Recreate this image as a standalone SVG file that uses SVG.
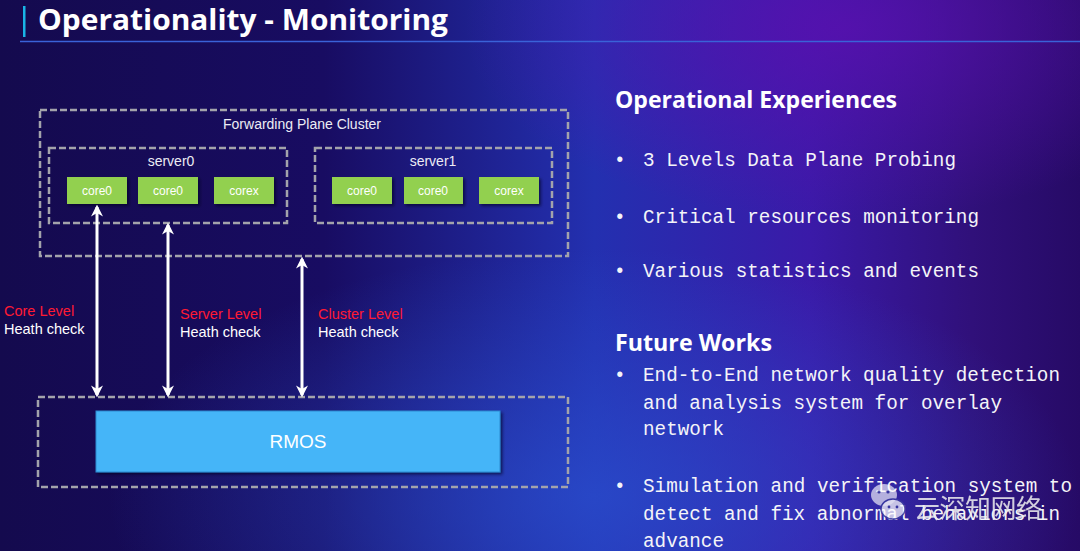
<svg xmlns="http://www.w3.org/2000/svg" width="1080" height="551" viewBox="0 0 1080 551">
<defs>
<linearGradient id="bg" x1="0" y1="0" x2="1" y2="0">
<stop offset="0" stop-color="#140a4e"/>
<stop offset="0.3" stop-color="#180c62"/>
<stop offset="0.55" stop-color="#2330b0"/>
<stop offset="0.75" stop-color="#3a1aa8"/>
<stop offset="0.9" stop-color="#30107a"/>
<stop offset="1" stop-color="#260a66"/>
</linearGradient>
<radialGradient id="glow1" cx="0.78" cy="0.05" r="0.35">
<stop offset="0" stop-color="#5a10b0" stop-opacity="0.8"/>
<stop offset="1" stop-color="#5a10b0" stop-opacity="0"/>
</radialGradient>
<radialGradient id="glow2" cx="0.55" cy="0.9" r="0.45">
<stop offset="0" stop-color="#2a50d0" stop-opacity="0.7"/>
<stop offset="1" stop-color="#2a50d0" stop-opacity="0"/>
</radialGradient>
<marker id="ah" viewBox="0 0 10 10" refX="8" refY="5" markerWidth="4" markerHeight="4" orient="auto-start-reverse" markerUnits="strokeWidth">
<path d="M0,0 L10,5 L0,10 L3,5 Z" fill="#ffffff"/>
</marker>
<filter id="sh" x="-10%" y="-10%" width="130%" height="140%">
<feDropShadow dx="2" dy="2" stdDeviation="1.5" flood-color="#000020" flood-opacity="0.6"/>
</filter>
</defs>
<style>
.dash{fill:none;stroke:#a3a3ab;stroke-width:2.5;stroke-dasharray:7 3}
.core{fill:#92d050;filter:url(#sh)}
.ct{font-family:"Liberation Sans",Arial,sans-serif;font-size:12px;fill:#ffffff;text-anchor:middle}
.lbl{font-family:"Liberation Sans",Arial,sans-serif;font-size:14px;fill:#ececf4;text-anchor:middle}
.lv{font-family:"Liberation Sans",Arial,sans-serif;font-size:14.5px;fill:#ff1a33}
.hc{font-family:"Liberation Sans",Arial,sans-serif;font-size:14.5px;fill:#ffffff}
.h{font-family:"Open Sans","Noto Sans",sans-serif;font-weight:bold;fill:#ffffff}
.m{font-family:"Liberation Mono","DejaVu Sans Mono",monospace;font-size:19.3px;fill:#f4f4f8}
.arr{stroke:#ffffff;stroke-width:3;fill:none;marker-start:url(#ah);marker-end:url(#ah)}
</style>
<rect width="1080" height="551" fill="url(#bg)"/>
<rect width="1080" height="551" fill="url(#glow1)"/>
<rect width="1080" height="551" fill="url(#glow2)"/>

<g id="title">
<rect x="23" y="6" width="2.5" height="31" fill="#19b4e6"/>
<text x="38" y="30" class="h" font-size="29" textLength="410" lengthAdjust="spacingAndGlyphs">Operationality - Monitoring</text>
<line x1="20" y1="41.5" x2="1080" y2="41.5" stroke="#3a62d8" stroke-width="1.5"/>
</g>

<g id="cluster">
<rect class="dash" x="40" y="110" width="528" height="146"/>
<text class="lbl" x="302" y="129">Forwarding Plane Cluster</text>
</g>
<g id="server0">
<rect class="dash" x="49" y="148" width="238" height="75"/>
<text class="lbl" x="171" y="166">server0</text>
</g>
<g id="server1">
<rect class="dash" x="315" y="148" width="237" height="75"/>
<text class="lbl" x="433" y="166">server1</text>
</g>
<g id="s0-core0a"><rect class="core" x="67" y="177" width="60" height="27"/><text class="ct" x="97" y="195">core0</text></g>
<g id="s0-core0b"><rect class="core" x="138" y="177" width="60" height="27"/><text class="ct" x="168" y="195">core0</text></g>
<g id="s0-corex"><rect class="core" x="214" y="177" width="60" height="27"/><text class="ct" x="244" y="195">corex</text></g>
<g id="s1-core0a"><rect class="core" x="332" y="177" width="60" height="27"/><text class="ct" x="362" y="195">core0</text></g>
<g id="s1-core0b"><rect class="core" x="404" y="177" width="59" height="27"/><text class="ct" x="433" y="195">core0</text></g>
<g id="s1-corex"><rect class="core" x="479" y="177" width="60" height="27"/><text class="ct" x="509" y="195">corex</text></g>

<g id="rmos-area">
<rect class="dash" x="38" y="397" width="530" height="90"/>
</g>
<g id="rmos">
<rect x="96" y="411" width="404" height="61" fill="#45b5f8" stroke="#2a8ad0" stroke-width="1" filter="url(#sh)"/>
<text x="298" y="448" font-family="'Liberation Sans',Arial,sans-serif" font-size="19" fill="#ffffff" text-anchor="middle">RMOS</text>
</g>

<g id="connectors">
<line class="arr" x1="97" y1="207" x2="97" y2="395"/>
<line class="arr" x1="168" y1="225" x2="168" y2="395"/>
<line class="arr" x1="302" y1="259" x2="302" y2="395"/>
</g>

<g id="labels">
<text class="lv" x="4" y="316">Core Level</text>
<text class="hc" x="4" y="334">Heath check</text>
<text class="lv" x="180" y="319">Server Level</text>
<text class="hc" x="180" y="337">Heath check</text>
<text class="lv" x="318" y="319">Cluster Level</text>
<text class="hc" x="318" y="337">Heath check</text>
</g>

<g id="right-text">
<text class="h" x="615" y="108" font-size="23" textLength="282" lengthAdjust="spacingAndGlyphs">Operational Experiences</text>
<text class="m" x="614" y="166">•</text><text class="m" x="643" y="166" textLength="313">3 Levels Data Plane Probing</text>
<text class="m" x="614" y="223">•</text><text class="m" x="643" y="223" textLength="336">Critical resources monitoring</text>
<text class="m" x="614" y="277">•</text><text class="m" x="643" y="277" textLength="336">Various statistics and events</text>
<text class="h" x="615" y="351" font-size="23" textLength="157" lengthAdjust="spacingAndGlyphs">Future Works</text>
<text class="m" x="614" y="381">•</text>
<text class="m" x="643" y="381" textLength="417">End-to-End network quality detection</text>
<text class="m" x="643" y="409" textLength="359">and analysis system for overlay</text>
<text class="m" x="643" y="435">network</text>
<text class="m" x="614" y="492">•</text>
<text class="m" x="643" y="492" textLength="429">Simulation and verification system to</text>
<text class="m" x="643" y="520" textLength="417">detect and fix abnormal behaviors in</text>
<text class="m" x="643" y="547">advance</text>
</g>

<g id="watermark" opacity="0.85">
<ellipse cx="884" cy="495" rx="13" ry="11" fill="#ffffff" fill-opacity="0.75"/>
<ellipse cx="893" cy="509" rx="12" ry="10" fill="#ffffff" fill-opacity="0.85" stroke="#3a3aa0" stroke-width="1.5"/>
<circle cx="879" cy="492" r="1.6" fill="#3a3aa0"/><circle cx="888" cy="492" r="1.6" fill="#3a3aa0"/>
<circle cx="889" cy="507" r="1.4" fill="#3a3aa0"/><circle cx="897" cy="507" r="1.4" fill="#3a3aa0"/>
<text x="914" y="518" font-family="'Noto Sans CJK SC',sans-serif" font-size="26" fill="#f0f0f0" textLength="128">云深知网络</text>
</g>
</svg>
